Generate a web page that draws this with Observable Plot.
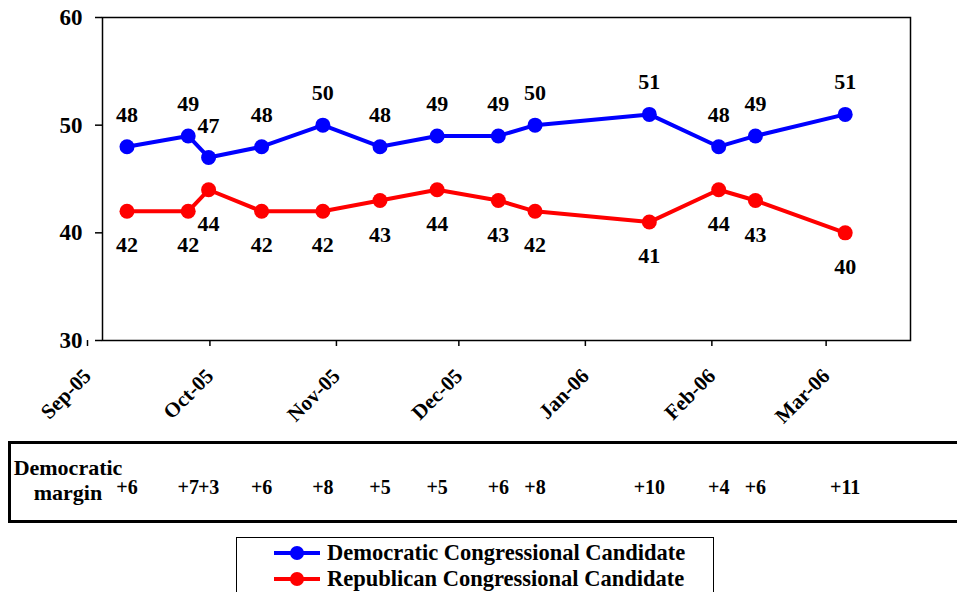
<!DOCTYPE html>
<html><head><meta charset="utf-8">
<script src="https://cdn.jsdelivr.net/npm/d3@7"></script>
<script src="https://cdn.jsdelivr.net/npm/@observablehq/plot@0.6"></script>
<style>
body{margin:0;background:#fff;overflow:hidden;font-family:"Liberation Serif","Times New Roman",serif;font-weight:bold;color:#000;}
#wrap{position:relative;width:957px;height:592px;overflow:hidden;}
#chart{position:absolute;left:0;top:0;}
#marginBox{position:absolute;left:8px;top:441px;width:970px;height:82px;border:3px solid #000;box-sizing:border-box;pointer-events:none;}
#marginLabel{position:absolute;left:8px;top:455px;width:120px;text-align:center;font-size:22px;line-height:25px;}
#legend{position:absolute;left:236px;top:537px;width:478px;height:70px;border:1.5px solid #000;box-sizing:border-box;}
.lrow{position:absolute;left:36px;height:26px;display:flex;align-items:center;font-size:22.5px;white-space:nowrap;}
.lrow svg{margin-right:6px;}
</style></head><body>
<div id="wrap">
<div id="chart"></div>
<div id="marginBox"></div>
<div id="marginLabel">Democratic<br>margin</div>
<div id="legend"></div>
</div>
<script>
// ---- data ----
const pollDates = ["2005-09-07","2005-09-22","2005-09-27","2005-10-10","2005-10-25","2005-11-08","2005-11-22","2005-12-07","2005-12-16","2006-01-13","2006-01-30","2006-02-08","2006-03-02"];
const demValues = [48,49,47,48,50,48,49,49,50,51,48,49,51];
const repValues = [42,42,44,42,42,43,44,43,42,41,44,43,40];
const marginLabels = ["+6","+7","+3","+6","+8","+5","+5","+6","+8","+10","+4","+6","+11"];
const yTicks = [30,40,50,60];
const monthTicks = ["2005-09-01","2005-10-01","2005-11-01","2005-12-01","2006-01-01","2006-02-01","2006-03-01"];
const monthLabels = ["Sep-05","Oct-05","Nov-05","Dec-05","Jan-06","Feb-06","Mar-06"];
const seriesNames = ["Democratic Congressional Candidate","Republican Congressional Candidate"];
const seriesColors = ["#0000ff","#ff0000"];
const xDomain = ["2005-09-01","2006-03-18"];

const parse = d3.utcParse("%Y-%m-%d");
const dem = pollDates.map((d,i)=>({date:parse(d), value:demValues[i]}));
const rep = pollDates.map((d,i)=>({date:parse(d), value:repValues[i]}));
const marg = pollDates.map((d,i)=>({date:parse(d), text:marginLabels[i]}));
const tickDates = monthTicks.map(parse);
const fmtMonth = d => monthLabels[tickDates.findIndex(t => +t === +d)];

const plot = Plot.plot({
  width:957, height:530,
  marginTop:17, marginBottom:190, marginLeft:102, marginRight:47,
  style:{fontFamily:"'Liberation Serif','Times New Roman',serif", fontWeight:"bold", color:"#000", background:"transparent", overflow:"visible"},
  x:{type:"utc", domain:xDomain.map(parse)},
  y:{domain:[30,60]},
  marks:[
    Plot.frame({stroke:"#000", strokeWidth:1.5}),
    Plot.axisY({ticks:yTicks, tickSize:7, tickPadding:13, fontSize:23, tickFormat:d=>String(d), label:null, strokeWidth:1.5}),
    Plot.axisX({ticks:tickDates, tickSize:6, tickFormat:fmtMonth, tickRotate:-45, fontSize:21, label:null, tickPadding:26, dx:-15, strokeWidth:1.5}),
    Plot.line(dem, {x:"date", y:"value", stroke:seriesColors[0], strokeWidth:4}),
    Plot.dot(dem, {x:"date", y:"value", r:7.5, fill:seriesColors[0]}),
    Plot.text(dem, {x:"date", y:"value", text:d=>String(d.value), dy:-32, fontSize:22}),
    Plot.line(rep, {x:"date", y:"value", stroke:seriesColors[1], strokeWidth:4}),
    Plot.dot(rep, {x:"date", y:"value", r:7.5, fill:seriesColors[1]}),
    Plot.text(rep, {x:"date", y:"value", text:d=>String(d.value), dy:34, fontSize:22}),
    Plot.text(marg, {x:"date", text:"text", frameAnchor:"bottom", dy:153, fontSize:20})
  ]
});
document.getElementById("chart").appendChild(plot);

const legend = document.getElementById("legend");
seriesNames.forEach((name,i)=>{
  const row = document.createElement("div");
  row.className = "lrow";
  row.style.top = (i===0 ? 2 : 28) + "px";
  row.innerHTML = `<svg width="48" height="18"><line x1="1" y1="9" x2="47" y2="9" stroke="${seriesColors[i]}" stroke-width="4"/><circle cx="24" cy="9" r="7" fill="${seriesColors[i]}"/></svg><span>${name}</span>`;
  legend.appendChild(row);
});
</script>
</body></html>
